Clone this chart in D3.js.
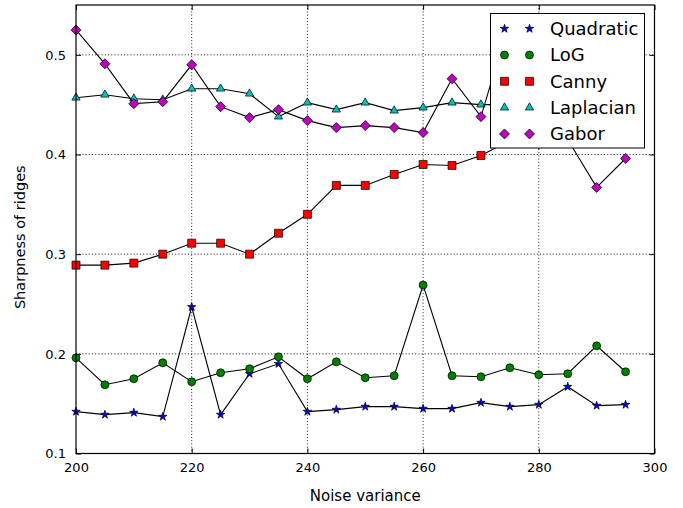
<!DOCTYPE html>
<html>
<head>
<meta charset="utf-8">
<script src="https://cdn.jsdelivr.net/npm/d3@7"></script>
<style>
  body { margin: 0; background: #fff; }
  svg text { font-family: "DejaVu Sans", sans-serif; fill: #000; }
  .grid line { stroke: #000; stroke-width: 0.9; stroke-dasharray: 1,2.2; }
</style>
</head>
<body>
<svg id="chart"></svg>
<script>
// values
var noiseVariance = [200, 205, 210, 215, 220, 225, 230, 235, 240, 245,
                     250, 255, 260, 265, 270, 275, 280, 285, 290, 295];
var quadratic = [0.142, 0.139, 0.141, 0.137, 0.247, 0.139, 0.180, 0.190, 0.142, 0.144,
                 0.147, 0.147, 0.145, 0.145, 0.151, 0.147, 0.149, 0.167, 0.148, 0.149];
var logSharp  = [0.196, 0.169, 0.175, 0.191, 0.172, 0.181, 0.185, 0.197, 0.175, 0.192,
                 0.176, 0.178, 0.269, 0.178, 0.177, 0.186, 0.179, 0.180, 0.208, 0.182];
var canny     = [0.289, 0.289, 0.291, 0.300, 0.311, 0.311, 0.300, 0.321, 0.340, 0.369,
                 0.369, 0.380, 0.390, 0.389, 0.399, 0.414, 0.420, 0.428, 0.432, 0.440];
var laplacian = [0.457, 0.460, 0.456, 0.455, 0.466, 0.466, 0.461, 0.438, 0.452, 0.445,
                 0.452, 0.444, 0.447, 0.452, 0.450, 0.450, 0.448, 0.452, 0.447, 0.450];
var gabor     = [0.525, 0.491, 0.451, 0.453, 0.490, 0.448, 0.437, 0.445, 0.434, 0.427,
                 0.429, 0.427, 0.422, 0.476, 0.438, 0.535, 0.411, 0.415, 0.367, 0.396];
var seriesNames = ["Quadratic", "LoG", "Canny", "Laplacian", "Gabor"];
var xTicks = [200, 220, 240, 260, 280, 300];
var yTicks = [0.1, 0.2, 0.3, 0.4, 0.5];

var series = [
  {name: seriesNames[0], values: quadratic, fill: "#0000ff", sym: d3.symbolStar, size: 22, rot: 0},
  {name: seriesNames[1], values: logSharp,  fill: "#008000", sym: d3.symbolCircle, size: 50, rot: 0},
  {name: seriesNames[2], values: canny,     fill: "#ff0000", sym: d3.symbolSquare, size: 64, rot: 0},
  {name: seriesNames[3], values: laplacian, fill: "#00bfbf", sym: d3.symbolTriangle, size: 30, rot: 0},
  {name: seriesNames[4], values: gabor,     fill: "#bf00bf", sym: d3.symbolSquare, size: 50, rot: 45}
];

var W = 683, H = 508;
var margin = {top: 5, right: 28.5, bottom: 54.5, left: 76};
var width = W - margin.left - margin.right,
    height = H - margin.top - margin.bottom;

var x = d3.scaleLinear().domain([200, 300]).range([0, width]);
var y = d3.scaleLinear().domain([0.1, 0.55]).range([height, 0]);

var svg = d3.select("#chart").attr("width", W).attr("height", H);
var g = svg.append("g").attr("transform", "translate(" + margin.left + "," + margin.top + ")");

// dotted grid
var grid = g.append("g").attr("class", "grid");
grid.selectAll(".gx").data(xTicks.slice(1, -1)).enter().append("line")
  .attr("x1", function(d) { return x(d); }).attr("x2", function(d) { return x(d); })
  .attr("y1", 0).attr("y2", height);
grid.selectAll(".gy").data(yTicks.slice(1)).enter().append("line")
  .attr("x1", 0).attr("x2", width)
  .attr("y1", function(d) { return y(d); }).attr("y2", function(d) { return y(d); });

// axes with inward ticks on all sides
var tickLen = 5;
var bottomAxis = g.append("g").attr("transform", "translate(0," + height + ")")
  .call(d3.axisBottom(x).tickValues(xTicks).tickSize(-tickLen).tickPadding(9).tickFormat(d3.format("d")));
var leftAxis = g.append("g")
  .call(d3.axisLeft(y).tickValues(yTicks).tickSize(-tickLen).tickPadding(10).tickFormat(d3.format(".1f")));
g.append("g").call(d3.axisTop(x).tickValues(xTicks).tickSize(-tickLen).tickFormat(""));
g.append("g").attr("transform", "translate(" + width + ",0)")
  .call(d3.axisRight(y).tickValues(yTicks).tickSize(-tickLen).tickFormat(""));
g.selectAll(".domain").remove();
g.selectAll(".tick line").attr("stroke", "#000").attr("stroke-width", 1);
bottomAxis.selectAll("text").style("font-size", "13px").attr("dy", "0.71em");
leftAxis.selectAll("text").style("font-size", "13px");

// series: black connecting line, then coloured markers
var line = d3.line()
  .x(function(d, i) { return x(noiseVariance[i]); })
  .y(function(d) { return y(d); });

series.forEach(function(s) {
  g.append("path").datum(s.values)
    .attr("d", line)
    .attr("fill", "none").attr("stroke", "#000").attr("stroke-width", 1.1);
  g.selectAll(null).data(s.values).enter().append("path")
    .attr("d", d3.symbol().type(s.sym).size(s.size))
    .attr("transform", function(d, i) {
      return "translate(" + x(noiseVariance[i]) + "," + y(d) + ") rotate(" + s.rot + ")";
    })
    .attr("fill", s.fill).attr("stroke", "#000").attr("stroke-width", 0.7);
});

// frame
g.append("rect").attr("width", width).attr("height", height)
  .attr("fill", "none").attr("stroke", "#000").attr("stroke-width", 1.2);

// axis labels
g.append("text")
  .attr("x", width / 2).attr("y", height + 47)
  .attr("text-anchor", "middle").style("font-size", "15px")
  .text("Noise variance");
g.append("text")
  .attr("transform", "translate(" + (20 - margin.left) + "," + (height / 2 + 8) + ") rotate(-90)")
  .attr("dy", "0.35em")
  .attr("text-anchor", "middle").style("font-size", "14.5px")
  .text("Sharpness of ridges");

// legend
var leg = svg.append("g").attr("transform", "translate(490.5,13.5)");
leg.append("rect").attr("width", 154).attr("height", 134.5)
  .attr("fill", "#fff").attr("stroke", "#000").attr("stroke-width", 1);
series.forEach(function(s, k) {
  var row = leg.append("g").attr("transform", "translate(0," + (15.2 + k * 26.3) + ")");
  [14, 39].forEach(function(mx) {
    row.append("path")
      .attr("d", d3.symbol().type(s.sym).size(s.size))
      .attr("transform", "translate(" + mx + ",0) rotate(" + s.rot + ")")
      .attr("fill", s.fill).attr("stroke", "#000").attr("stroke-width", 0.7);
  });
  row.append("text").attr("x", 59.5).attr("dy", "0.36em")
    .style("font-size", "18px").text(s.name);
});
</script>
</body>
</html>
